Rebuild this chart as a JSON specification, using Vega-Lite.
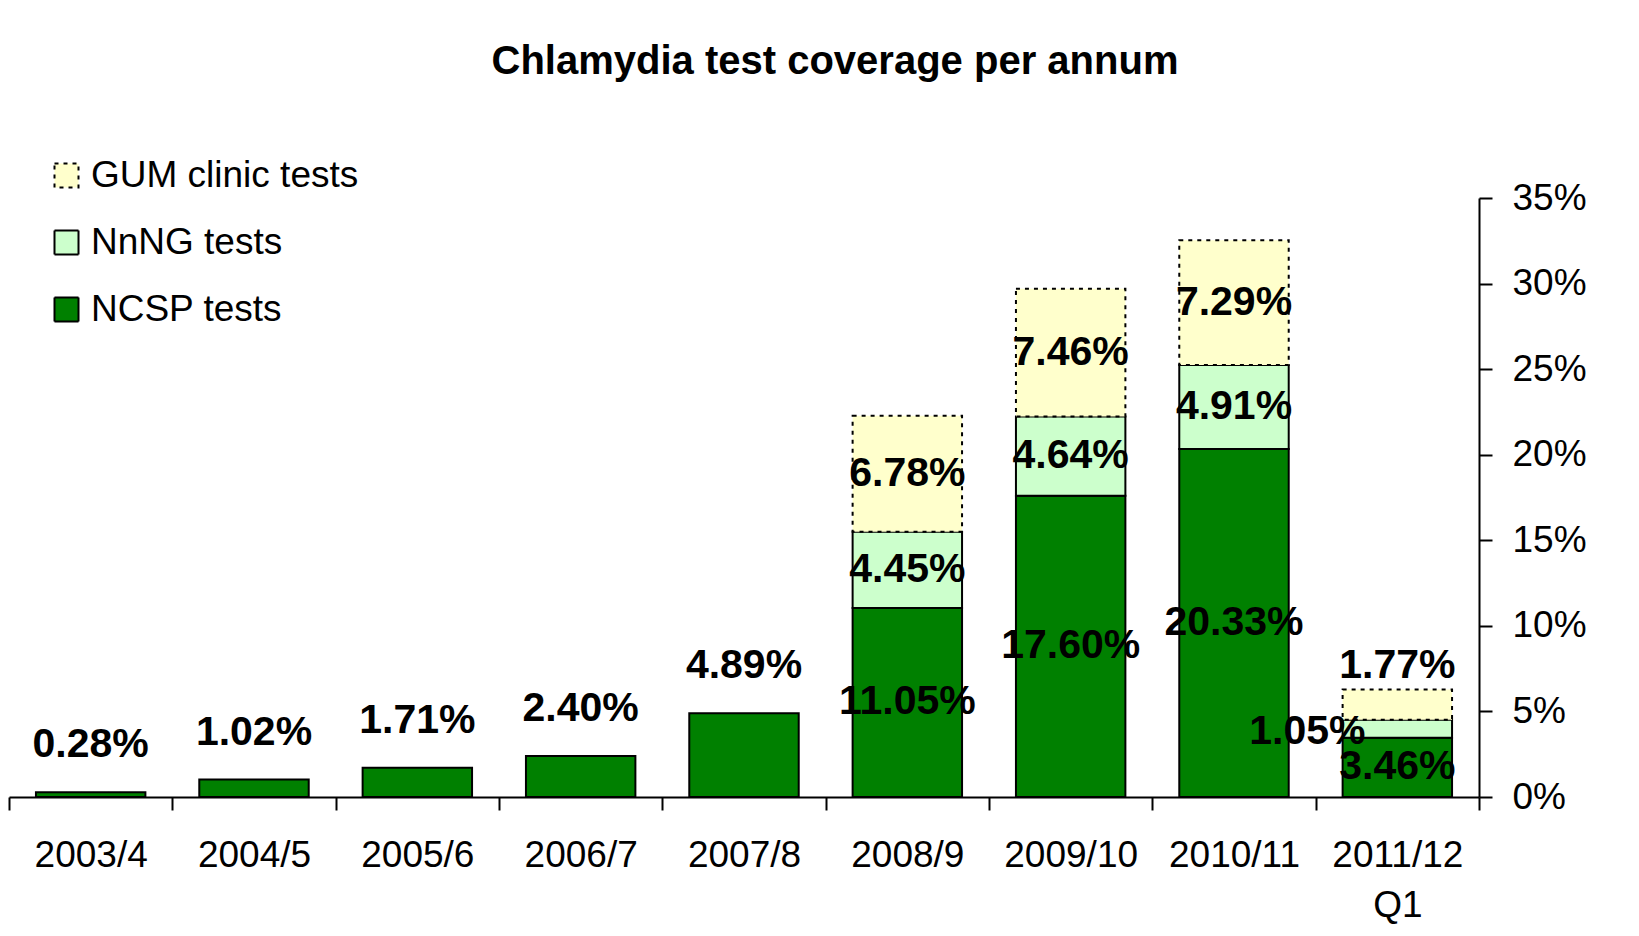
{
  "$schema": "https://vega.github.io/schema/vega-lite/v6.json",
  "autosize": "none",
  "padding": {"left": 9, "top": 198, "right": 160, "bottom": 139},
  "width": 1470,
  "height": 599,
  "background": "white",
  "config": {
    "view": {"stroke": null},
    "font": "Liberation Sans",
    "axisY": {
      "grid": false,
      "domainColor": "black",
      "domainWidth": 2,
      "tickColor": "black",
      "tickWidth": 2,
      "tickSize": 13,
      "labelFont": "Liberation Sans",
      "labelFontSize": 37,
      "labelColor": "black",
      "labelPadding": 20
    }
  },
  "title": {
    "text": "Chlamydia test coverage per annum",
    "font": "Liberation Sans",
    "fontSize": 40,
    "fontWeight": "bold",
    "color": "black",
    "anchor": "middle",
    "frame": "group",
    "baseline": "alphabetic",
    "dx": 91,
    "offset": 43
  },
  "data": {
    "values": [
      {"Year": "2003/4", "Series": "NCSP tests", "Value": 0.0028},
      {"Year": "2004/5", "Series": "NCSP tests", "Value": 0.0102},
      {"Year": "2005/6", "Series": "NCSP tests", "Value": 0.0171},
      {"Year": "2006/7", "Series": "NCSP tests", "Value": 0.0240},
      {"Year": "2007/8", "Series": "NCSP tests", "Value": 0.0489},
      {"Year": "2008/9", "Series": "NCSP tests", "Value": 0.1105},
      {"Year": "2008/9", "Series": "NnNG tests", "Value": 0.0445},
      {"Year": "2008/9", "Series": "GUM clinic tests", "Value": 0.0678},
      {"Year": "2009/10", "Series": "NCSP tests", "Value": 0.1760},
      {"Year": "2009/10", "Series": "NnNG tests", "Value": 0.0464},
      {"Year": "2009/10", "Series": "GUM clinic tests", "Value": 0.0746},
      {"Year": "2010/11", "Series": "NCSP tests", "Value": 0.2033},
      {"Year": "2010/11", "Series": "NnNG tests", "Value": 0.0491},
      {"Year": "2010/11", "Series": "GUM clinic tests", "Value": 0.0729},
      {"Year": "2011/12 Q1", "Series": "NCSP tests", "Value": 0.0346},
      {"Year": "2011/12 Q1", "Series": "NnNG tests", "Value": 0.0105},
      {"Year": "2011/12 Q1", "Series": "GUM clinic tests", "Value": 0.0177}
    ]
  },
  "transform": [
    {"calculate": "indexof(['NCSP tests','NnNG tests','GUM clinic tests'], datum.Series)", "as": "ord"},
    {"stack": "Value", "groupby": ["Year"], "sort": [{"field": "ord", "order": "ascending"}], "as": ["v0", "v1"]},
    {"calculate": "(datum.v0 + datum.v1) / 2", "as": "mid"}
  ],
  "encoding": {
    "x": {
      "field": "Year",
      "type": "nominal",
      "sort": ["2003/4", "2004/5", "2005/6", "2006/7", "2007/8", "2008/9", "2009/10", "2010/11", "2011/12 Q1"],
      "scale": {"type": "band", "paddingInner": 0, "paddingOuter": 0},
      "axis": {
        "title": null,
        "labelAngle": 0,
        "tickBand": "extent",
        "labelExpr": "datum.value == '2011/12 Q1' ? ['2011/12', 'Q1'] : datum.value",
        "domainColor": "black",
        "domainWidth": 2,
        "tickColor": "black",
        "tickWidth": 2,
        "tickSize": 13,
        "labelFont": "Liberation Sans",
        "labelFontSize": 37,
        "labelColor": "black",
        "labelPadding": 27,
        "labelLineHeight": 50,
        "labelLimit": 0
      }
    }
  },
  "layer": [
    {
      "mark": {"type": "bar", "stroke": "black", "strokeWidth": 2, "width": {"band": 0.67}},
      "encoding": {
        "y": {
          "field": "v0",
          "type": "quantitative",
          "scale": {"domain": [0, 0.35], "nice": false, "zero": true},
          "axis": {"orient": "right", "title": null, "values": [0, 0.05, 0.1, 0.15, 0.2, 0.25, 0.3, 0.35], "format": ".0%"}
        },
        "y2": {"field": "v1"},
        "color": {
          "field": "Series",
          "type": "nominal",
          "scale": {
            "domain": ["GUM clinic tests", "NnNG tests", "NCSP tests"],
            "range": ["#FFFFCC", "#CCFFCC", "#008000"]
          },
          "legend": {
            "title": null,
            "orient": "none",
            "legendX": 39,
            "legendY": -41,
            "symbolType": "square",
            "symbolSize": 576,
            "symbolStrokeColor": "black",
            "symbolStrokeWidth": 2,
            "symbolOpacity": 1,
            "labelFont": "Liberation Sans",
            "labelFontSize": 37,
            "labelColor": "black",
            "labelOffset": 6,
            "labelLimit": 0,
            "rowPadding": 29
          }
        },
        "strokeDash": {
          "field": "Series",
          "type": "nominal",
          "scale": {
            "domain": ["GUM clinic tests", "NnNG tests", "NCSP tests"],
            "range": [[4, 5], [1, 0], [1, 0]]
          }
        }
      }
    },
    {
      "transform": [{"filter": "indexof(['2008/9','2009/10','2010/11'], datum.Year) >= 0 || (datum.Year == '2011/12 Q1' && datum.Series == 'NCSP tests')"}],
      "mark": {"type": "text", "font": "Liberation Sans", "fontSize": 41, "fontWeight": "bold", "color": "black", "baseline": "middle", "align": "center"},
      "encoding": {
        "y": {"field": "mid", "type": "quantitative", "axis": {"orient": "right", "title": null, "values": [0, 0.05, 0.1, 0.15, 0.2, 0.25, 0.3, 0.35], "format": ".0%"}},
        "text": {"field": "Value", "type": "quantitative", "format": ".2%"}
      }
    },
    {
      "transform": [{"filter": "indexof(['2003/4','2004/5','2005/6','2006/7','2007/8'], datum.Year) >= 0"}],
      "mark": {"type": "text", "font": "Liberation Sans", "fontSize": 41, "fontWeight": "bold", "color": "black", "baseline": "middle", "align": "center", "dy": -47},
      "encoding": {
        "y": {"field": "v1", "type": "quantitative", "axis": {"orient": "right", "title": null, "values": [0, 0.05, 0.1, 0.15, 0.2, 0.25, 0.3, 0.35], "format": ".0%"}},
        "text": {"field": "Value", "type": "quantitative", "format": ".2%"}
      }
    },
    {
      "transform": [{"filter": "datum.Year == '2011/12 Q1' && datum.Series == 'GUM clinic tests'"}],
      "mark": {"type": "text", "font": "Liberation Sans", "fontSize": 41, "fontWeight": "bold", "color": "black", "baseline": "middle", "align": "center", "dy": -24},
      "encoding": {
        "y": {"field": "v1", "type": "quantitative", "axis": {"orient": "right", "title": null, "values": [0, 0.05, 0.1, 0.15, 0.2, 0.25, 0.3, 0.35], "format": ".0%"}},
        "text": {"field": "Value", "type": "quantitative", "format": ".2%"}
      }
    },
    {
      "transform": [{"filter": "datum.Year == '2011/12 Q1' && datum.Series == 'NnNG tests'"}],
      "mark": {"type": "text", "font": "Liberation Sans", "fontSize": 41, "fontWeight": "bold", "color": "black", "baseline": "middle", "align": "center", "dx": -90, "dy": 3},
      "encoding": {
        "y": {"field": "mid", "type": "quantitative", "axis": {"orient": "right", "title": null, "values": [0, 0.05, 0.1, 0.15, 0.2, 0.25, 0.3, 0.35], "format": ".0%"}},
        "text": {"field": "Value", "type": "quantitative", "format": ".2%"}
      }
    }
  ]
}
